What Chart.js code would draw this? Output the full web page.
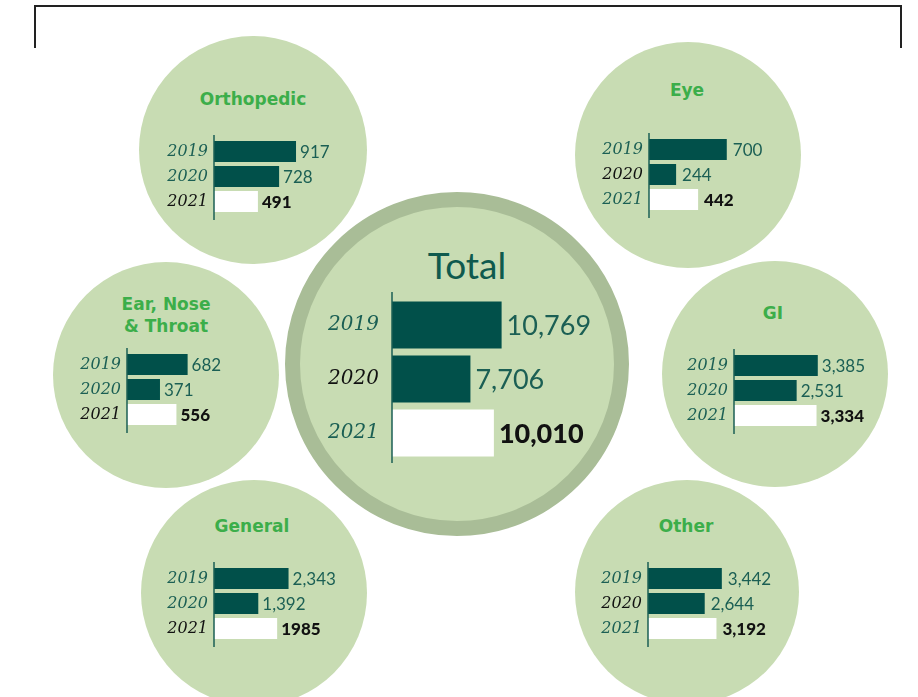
<!DOCTYPE html>
<html>
<head>
<meta charset="utf-8">
<script src="https://cdn.jsdelivr.net/npm/chart.js@4"></script>
<style>
  body { margin: 0; background: #fff; }
  #page { position: relative; width: 918px; height: 697px; overflow: hidden; font-family: Lato, sans-serif; }
  .frame { position: absolute; background: #222; }
  .circle { position: absolute; border-radius: 50%; background: #c8dcb3; }
  .ring { position: absolute; border-radius: 50%; background: #c8dcb3; border: 15px solid #a9bd97; box-sizing: border-box; }
  .title { position: absolute; transform: translate(-50%, -50%); color: #3cae4a; font-family: "DejaVu Sans", sans-serif; font-weight: bold; font-size: 17px; text-align: center; line-height: 22px; white-space: nowrap; }
  .title.big { color: #0f5a4e; font-family: Lato, sans-serif; font-weight: 400; font-size: 37px; line-height: 40px; }
  canvas { position: absolute; }
</style>
</head>
<body>
<div id="page">
  <div class="frame" style="left:34px; top:5px; width:868px; height:1.5px;"></div>
  <div class="frame" style="left:34px; top:5px; width:1.5px; height:43px;"></div>
  <div class="frame" style="left:900px; top:5px; width:1.5px; height:43px;"></div>
</div>
<script>
// values
const years = ['2019', '2020', '2021'];
const orthopedic = [917, 728, 491];
const eye = [700, 244, 442];
const earNoseThroat = [682, 371, 556];
const gi = [3385, 2531, 3334];
const general = [2343, 1392, 1985];
const other = [3442, 2644, 3192];
const total = [10769, 7706, 10010];
const generalText = ['2,343', '1,392', '1985'];

const DARK = '#01504a';
const TEAL = '#1b5f54';
const BLACK = '#111';

const page = document.getElementById('page');

// background circles
function circle(cx, cy, r, cls) {
    const d = document.createElement('div');
    d.className = cls || 'circle';
    d.style.left = (cx - r) + 'px';
    d.style.top = (cy - r) + 'px';
    d.style.width = d.style.height = (2 * r) + 'px';
    page.appendChild(d);
}
circle(253, 150, 114);
circle(688, 155, 113);
circle(166, 375, 113);
circle(775, 374, 113);
circle(254, 593, 113);
circle(687, 592, 112);
circle(457, 364, 172, 'ring');

function title(text, x, y, big) {
    const d = document.createElement('div');
    d.className = big ? 'title big' : 'title';
    d.innerHTML = text;
    d.style.left = x + 'px';
    d.style.top = y + 'px';
    page.appendChild(d);
}

const valueLabels = {
    id: 'valueLabels',
    afterDatasetsDraw(chart, args, opts) {
        const ctx = chart.ctx;
        const meta = chart.getDatasetMeta(0);
        meta.data.forEach((bar, i) => {
            const bold = i === 2;
            ctx.save();
            ctx.font = (bold ? '900 ' : '400 ') + opts.size + 'px Lato';
            ctx.fillStyle = bold ? BLACK : TEAL;
            ctx.textBaseline = 'middle';
            ctx.textAlign = 'left';
            ctx.fillText(opts.text[i], bar.x + opts.gap, bar.y + 1);
            ctx.restore();
        });
    }
};

const axisLine = {
    id: 'axisLine',
    afterDraw(chart, args, opts) {
        const a = chart.chartArea;
        const ctx = chart.ctx;
        ctx.save();
        ctx.strokeStyle = '#1b5f54';
        ctx.lineWidth = 1.5;
        ctx.beginPath();
        ctx.moveTo(a.left, a.top - opts.up);
        ctx.lineTo(a.left, a.bottom + opts.down);
        ctx.stroke();
        ctx.restore();
    }
};

function panel(p) {
    const row = p.row || 25, bar = p.bar || 21;
    const labelW = p.labelW || 60, plotW = p.plotW || 100;
    const padTop = 8, padBottom = 8, padRight = 110;
    const canvas = document.createElement('canvas');
    canvas.width = labelW + plotW + padRight;
    canvas.height = 3 * row + padTop + padBottom;
    canvas.style.left = (p.axisX - labelW) + 'px';
    canvas.style.top = (p.barTop - (row - bar) / 2 - padTop) + 'px';
    page.appendChild(canvas);

    const text = p.text || p.values.map(v => v.toLocaleString('en-US'));
    new Chart(canvas, {
        type: 'bar',
        data: {
            labels: years,
            datasets: [{
                data: p.values,
                backgroundColor: [DARK, DARK, '#ffffff'],
                borderWidth: 0,
                barPercentage: bar / row,
                categoryPercentage: 1
            }]
        },
        options: {
            indexAxis: 'y',
            responsive: false,
            animation: false,
            devicePixelRatio: 1,
            layout: { padding: { top: padTop, bottom: padBottom, right: padRight, left: 0 } },
            scales: {
                x: { display: false, min: 0, max: p.max },
                y: {
                    afterFit: s => {
                        s.width = labelW;
                        s.paddingTop = 0;
                        s.paddingBottom = 0;
                    },
                    grid: { display: false, drawTicks: false },
                    border: { display: false },
                    ticks: {
                        padding: p.tickPad || 6,
                        color: c => p.yearColors[c.index],
                        font: { family: 'DejaVu Serif', style: 'italic', size: p.yearSize || 16 }
                    }
                }
            },
            plugins: {
                legend: { display: false },
                tooltip: { enabled: false },
                valueLabels: { text: text, size: p.valueSize || 17, gap: p.gap || 4 },
                axisLine: { up: p.up || 4, down: p.down || 6 }
            }
        },
        plugins: [valueLabels, axisLine]
    });
    title(p.title, p.titleX, p.titleY, p.big);
}

panel({ title: 'Orthopedic', titleX: 253, titleY: 99, values: orthopedic, max: 1118,
        axisX: 214, barTop: 141, yearColors: [TEAL, TEAL, BLACK] });
panel({ title: 'Eye', titleX: 687, titleY: 90, values: eye, max: 900,
        axisX: 649, barTop: 139, yearColors: [TEAL, BLACK, TEAL], gap: 6 });
panel({ title: 'Ear, Nose<br>&amp; Throat', titleX: 166, titleY: 315, values: earNoseThroat, max: 1125,
        axisX: 127, barTop: 354, yearColors: [TEAL, TEAL, BLACK] });
panel({ title: 'GI', titleX: 773, titleY: 313, values: gi, max: 4040,
        axisX: 734, barTop: 355, yearColors: [TEAL, TEAL, TEAL] });
panel({ title: 'General', titleX: 252, titleY: 526, values: general, text: generalText, max: 3143,
        axisX: 214, barTop: 568, yearColors: [TEAL, TEAL, BLACK] });
panel({ title: 'Other', titleX: 686, titleY: 526, values: other, max: 4662,
        axisX: 648, barTop: 568, yearColors: [TEAL, BLACK, TEAL], gap: 6 });
panel({ title: 'Total', titleX: 467, titleY: 265, big: true, values: total, max: 19650,
        axisX: 392, barTop: 301, row: 54, bar: 47, labelW: 90, plotW: 200, tickPad: 13,
        yearSize: 20, valueSize: 27, gap: 5, up: 6, down: 3,
        yearColors: [TEAL, BLACK, TEAL] });
</script>
</body>
</html>
